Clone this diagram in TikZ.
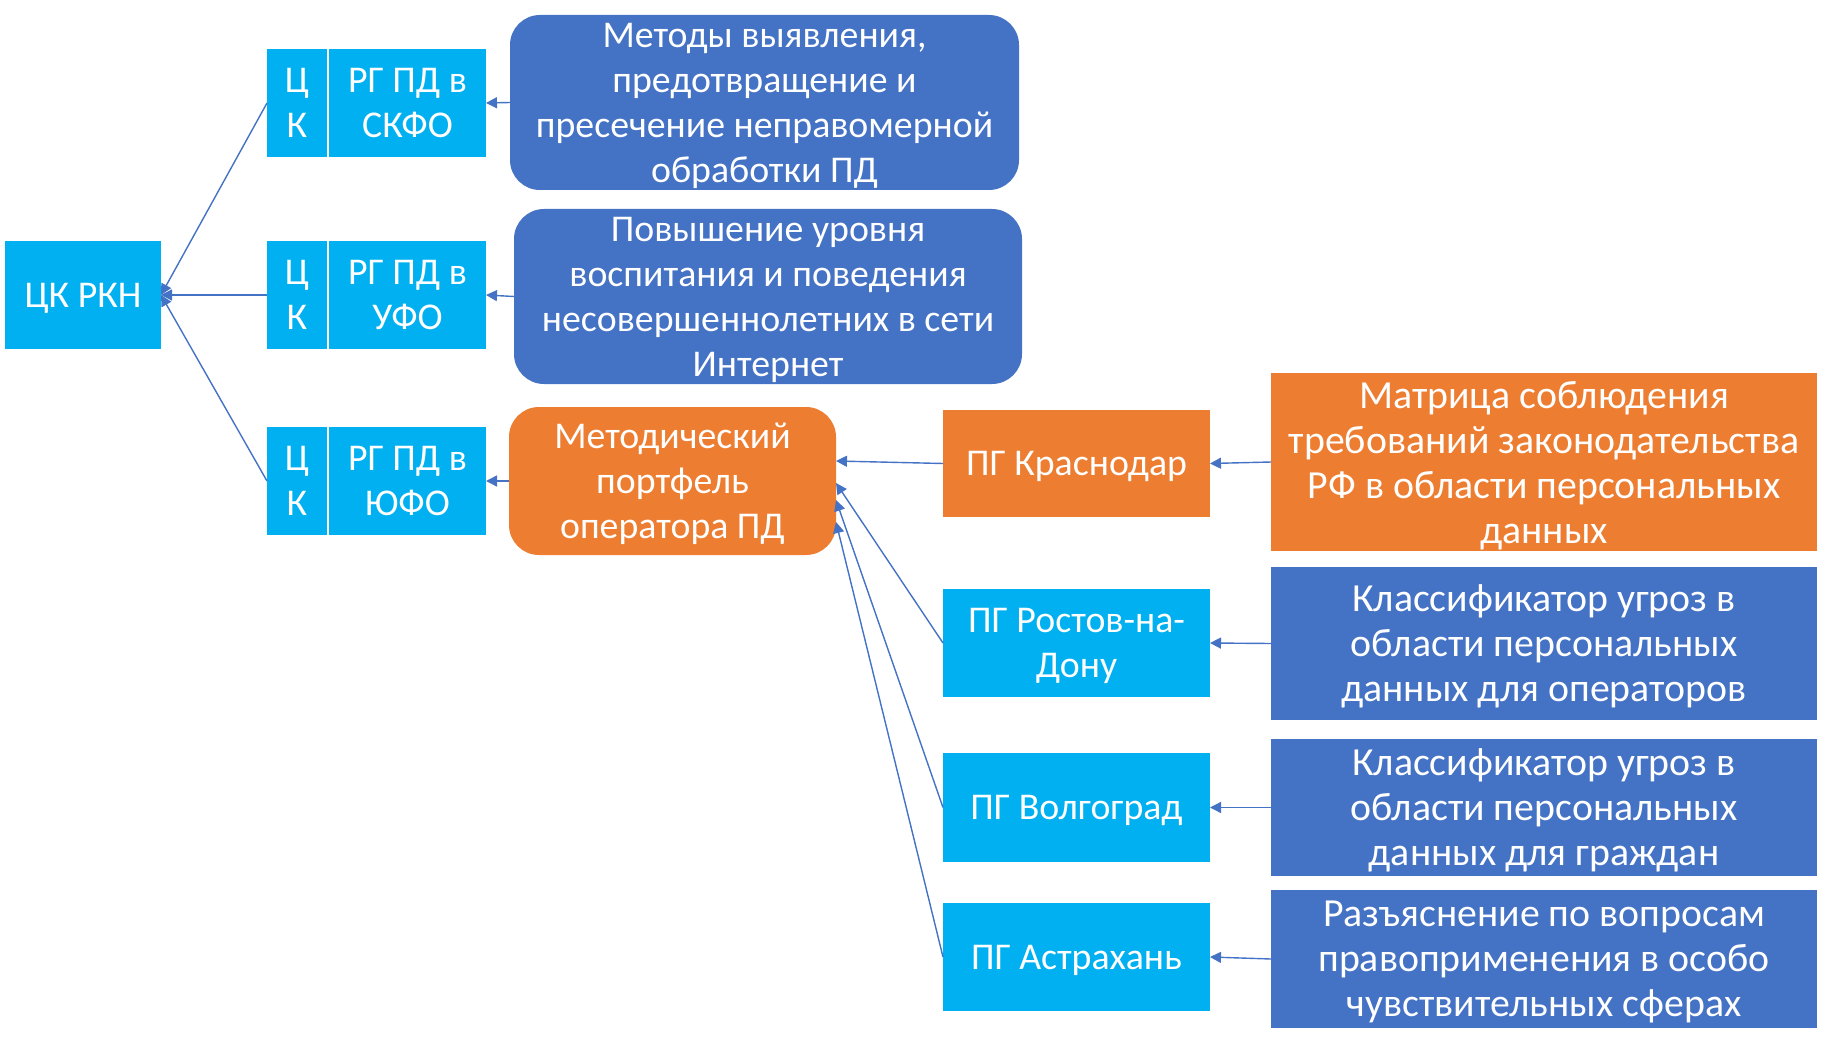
\documentclass[tikz,border=0pt]{standalone}
\usepackage{fontspec}
\setmainfont{Carlito}
\usetikzlibrary{arrows.meta}
\definecolor{lb}{HTML}{00B0F0}
\definecolor{db}{HTML}{4472C4}
\definecolor{orn}{HTML}{ED7D31}
\begin{document}
\begin{tikzpicture}[x=1pt,y=-1pt,
  box/.style={inner sep=0pt, outer sep=0pt, text=white, align=center,
    font=\fontsize{37.8}{45}\selectfont, text depth=-4pt},
  big/.style={font=\fontsize{39.8}{45}\selectfont, text depth=-6.5pt},
  lbox/.style={box, fill=lb},
  dbox/.style={box, fill=db},
  obox/.style={box, fill=orn},
  rnd/.style={rounded corners=30pt},
  conn/.style={draw=db, line width=1.4pt, -{Triangle[length=11pt,width=11pt]}}]
\useasboundingbox (0,0) rectangle (1826,1051);
% root
\node[lbox, minimum width=156pt, minimum height=108pt] (rkn) at (83,295) {ЦК РКН};
% CK cells
\node[lbox, minimum width=60pt, minimum height=108pt] (ck1) at (297,103) {Ц\\К};
\node[lbox, minimum width=157pt, minimum height=108pt] (rg1) at (407.5,103) {РГ ПД в\\СКФО};
\node[lbox, minimum width=60pt, minimum height=108pt] (ck2) at (297,295) {Ц\\К};
\node[lbox, minimum width=157pt, minimum height=108pt] (rg2) at (407.5,295) {РГ ПД в\\УФО};
\node[lbox, minimum width=60pt, minimum height=108pt] (ck3) at (297,481) {Ц\\К};
\node[lbox, minimum width=157pt, minimum height=108pt] (rg3) at (407.5,481) {РГ ПД в\\ЮФО};
% middle column
\node[dbox, rnd, minimum width=509pt, minimum height=175pt] (met1) at (764.5,102.5)
  {Методы выявления,\\предотвращение и\\пресечение неправомерной\\обработки ПД};
\node[dbox, rnd, minimum width=508pt, minimum height=175pt] (pov) at (768,296.5)
  {Повышение уровня\\воспитания и поведения\\несовершеннолетних в сети\\Интернет};
\node[obox, rnd, minimum width=327pt, minimum height=148pt] (port) at (672.5,481)
  {Методический\\портфель\\оператора ПД};
% PG column
\node[obox, minimum width=267pt, minimum height=107pt] (krd) at (1076.5,463.5) {ПГ Краснодар};
\node[lbox, minimum width=267pt, minimum height=108pt] (rnd) at (1076.5,643) {ПГ Ростов-на-\\Дону};
\node[lbox, minimum width=267pt, minimum height=109pt] (vlg) at (1076.5,807.5) {ПГ Волгоград};
\node[lbox, minimum width=267pt, minimum height=108pt] (ast) at (1076.5,957) {ПГ Астрахань};
% right column
\node[obox, big, minimum width=546pt, minimum height=178pt] (mat) at (1544,462)
  {Матрица соблюдения\\требований законодательства\\РФ в области персональных\\данных};
\node[dbox, big, minimum width=546pt, minimum height=153pt] (kl1) at (1544,643.5)
  {Классификатор угроз в\\области персональных\\данных для операторов};
\node[dbox, big, minimum width=546pt, minimum height=137pt] (kl2) at (1544,807.5)
  {Классификатор угроз в\\области персональных\\данных для граждан};
\node[dbox, big, minimum width=546pt, minimum height=138pt] (raz) at (1544,959)
  {Разъяснение по вопросам\\правоприменения в особо\\чувствительных сферах};
% connectors
\draw[conn] (ck1.west) -- (rkn.east);
\draw[conn] (ck2.west) -- (rkn.east);
\draw[conn] (ck3.west) -- (rkn.east);
\draw[conn] (met1.west) -- (rg1.east);
\draw[conn] (pov.west) -- (rg2.east);
\draw[conn] (port.west) -- (rg3.east);
\coordinate (p1) at ([yshift=-54pt]port.north east);
\coordinate (p2) at ([yshift=-76pt]port.north east);
\coordinate (p3) at ([yshift=-93pt]port.north east);
\coordinate (p4) at ([yshift=-115pt]port.north east);
\draw[conn] (krd.west) -- (p1);
\draw[conn] (rnd.west) -- (p2);
\draw[conn] (vlg.west) -- (p3);
\draw[conn] (ast.west) -- (p4);
\draw[conn] (mat.west) -- (krd.east);
\draw[conn] (kl1.west) -- (rnd.east);
\draw[conn] (kl2.west) -- (vlg.east);
\draw[conn] (raz.west) -- (ast.east);
\end{tikzpicture}
\end{document}
